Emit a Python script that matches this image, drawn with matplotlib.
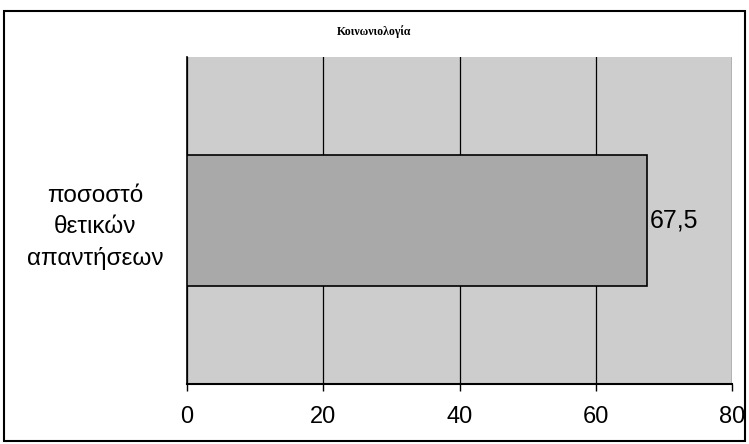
import numpy as np
import matplotlib.pyplot as plt
from matplotlib.patches import Rectangle

# data
categories = ['ποσοστό\nθετικών\nαπαντήσεων']
values = [67.5]
value_labels = ['67,5']
xticks = [0, 20, 40, 60, 80]
title = 'Κοινωνιολογία'

plt.rcParams['font.family'] = ['Liberation Sans', 'DejaVu Sans']

fig = plt.figure(figsize=(7.49, 4.44), dpi=100)
ax = fig.add_axes([0.2497, 0.1351, 0.7276, 0.7365])
ax.set_facecolor('#cdcdcd')

y = np.arange(len(categories))
ax.barh(y, values, height=0.4, color='#a9a9a9', edgecolor='black', linewidth=1.2, zorder=3)
for yi, v, lab in zip(y, values, value_labels):
    ax.text(v + 0.4, yi, lab, va='center', ha='left', fontsize=18, zorder=4)

ax.set_xlim(0, 80)
ax.set_ylim(-0.5, 0.5)
ax.set_xticks(xticks)
ax.set_xticklabels([str(t) for t in xticks], fontsize=17)
ax.set_yticks(y)
ax.set_yticklabels(categories, fontsize=17.5, linespacing=1.5, ha='center')
ax.tick_params(axis='y', length=0, pad=66)
ax.tick_params(axis='x', length=5, direction='out', pad=11, width=1)
ax.grid(axis='x', color='black', linewidth=0.9, zorder=1)
ax.set_axisbelow(True)

for s in ['top', 'right']:
    ax.spines[s].set_visible(False)
ax.spines['left'].set_linewidth(1.2)
ax.spines['bottom'].set_linewidth(1.5)

fig.text(0.5, 0.928, title, ha='center', va='center', fontsize=8.5, fontweight='bold',
         family=['Liberation Serif', 'DejaVu Serif'])

# border around the chart
fig.patches.append(Rectangle((0.005, 0.006), 0.99, 0.97, transform=fig.transFigure,
                             fill=False, edgecolor='black', linewidth=1.5))

fig.savefig('out.png', dpi=100)
